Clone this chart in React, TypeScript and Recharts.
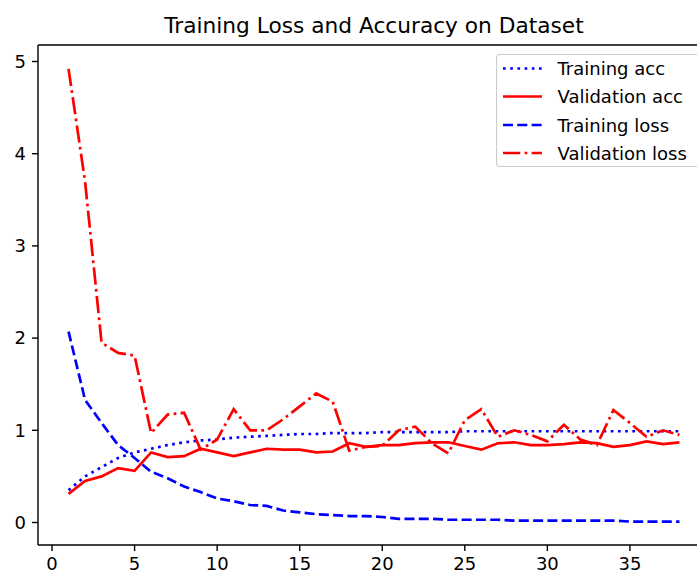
import { LineChart, Line, XAxis, YAxis, Legend, ReferenceLine } from "recharts";

const epochs = [
  1, 2, 3, 4, 5, 6, 7, 8, 9, 10, 11, 12, 13, 14, 15, 16, 17, 18, 19,
  20, 21, 22, 23, 24, 25, 26, 27, 28, 29, 30, 31, 32, 33, 34, 35, 36, 37, 38,
];

const trainAcc = [
  0.35, 0.5, 0.6, 0.7, 0.76, 0.8, 0.84, 0.87, 0.89, 0.9, 0.92, 0.93, 0.94,
  0.95, 0.96, 0.96, 0.97, 0.97, 0.97, 0.98, 0.98, 0.98, 0.98, 0.98, 0.99,
  0.99, 0.99, 0.99, 0.99, 0.99, 0.99, 0.99, 0.99, 0.99, 0.99, 0.99, 0.99, 0.99,
];

const valAcc = [
  0.31, 0.45, 0.5, 0.59, 0.56, 0.76, 0.71, 0.72, 0.8, 0.76, 0.72, 0.76, 0.8,
  0.79, 0.79, 0.76, 0.77, 0.86, 0.82, 0.84, 0.84, 0.86, 0.87, 0.87, 0.83,
  0.79, 0.86, 0.87, 0.84, 0.84, 0.85, 0.87, 0.86, 0.82, 0.84, 0.88, 0.85, 0.87,
];

const trainLoss = [
  2.07, 1.33, 1.08, 0.84, 0.7, 0.55, 0.48, 0.39, 0.33, 0.26, 0.23, 0.19, 0.18,
  0.13, 0.11, 0.09, 0.08, 0.07, 0.07, 0.06, 0.04, 0.04, 0.04, 0.03, 0.03,
  0.03, 0.03, 0.02, 0.02, 0.02, 0.02, 0.02, 0.02, 0.02, 0.01, 0.01, 0.01, 0.01,
];

const valLoss = [
  4.92, 3.7, 1.95, 1.84, 1.81, 0.97, 1.17, 1.19, 0.79, 0.9, 1.23, 1.0, 1.0,
  1.12, 1.26, 1.4, 1.31, 0.78, 0.82, 0.83, 1.0, 1.04, 0.86, 0.75, 1.11, 1.23,
  0.93, 1.0, 0.95, 0.88, 1.06, 0.9, 0.84, 1.22, 1.08, 0.93, 1.0, 0.95,
];

const xTicks = [0, 5, 10, 15, 20, 25, 30, 35];
const yTicks = [0, 1, 2, 3, 4, 5];
const X_DOMAIN = [-0.85, 39.85];
const Y_DOMAIN = [-0.244, 5.179];

const data = epochs.map((e, i) => ({
  epoch: e,
  trainAcc: trainAcc[i],
  valAcc: valAcc[i],
  trainLoss: trainLoss[i],
  valLoss: valLoss[i],
}));

// matplotlib-ish line styles (lw 2.7px, dash lengths scaled by lw)
const series = [
  { key: "trainAcc", name: "Training acc", color: "#0000ff", dash: "2.7 4.5" },
  { key: "valAcc", name: "Validation acc", color: "#ff0000", dash: undefined },
  { key: "trainLoss", name: "Training loss", color: "#0000ff", dash: "10 4.3" },
  { key: "valLoss", name: "Validation loss", color: "#ff0000", dash: "17.3 4.3 2.7 4.3" },
];

const FONT = "'DejaVu Sans', sans-serif";
const tickStyle = { fontSize: 18, fill: "#000", fontFamily: FONT };
const spine = { stroke: "#000", strokeWidth: 1.4 };

const LegendBox = () => {
  const rows = [14.5, 42.5, 71, 99];
  return (
    <svg width={210} height={114} style={{ display: "block" }}>
      <rect x={0.5} y={0.5} width={208} height={112} rx={3.5} fill="#fff" stroke="#cccccc" strokeWidth={1.2} />
      {series.map((s, i) => (
        <g key={s.key}>
          <line
            x1={7}
            x2={46}
            y1={rows[i]}
            y2={rows[i]}
            stroke={s.color}
            strokeWidth={2.7}
            strokeDasharray={s.dash}
          />
          <text x={61.5} y={rows[i] + 6.5} fontSize={18} fontFamily={FONT} fill="#000">
            {s.name}
          </text>
        </g>
      ))}
    </svg>
  );
};

export default function App() {
  return (
    <div
      style={{
        position: "absolute",
        left: 0,
        top: 0,
        width: 697,
        height: 573,
        overflow: "hidden",
        background: "#fff",
      }}
    >
      <div
        style={{
          position: "absolute",
          left: 38,
          width: 672,
          top: 13,
          textAlign: "center",
          fontSize: 21.7,
          lineHeight: "25px",
          fontFamily: FONT,
          color: "#000",
          whiteSpace: "nowrap",
        }}
      >
        Training Loss and Accuracy on Dataset
      </div>
      <LineChart
        width={720}
        height={573}
        data={data}
        margin={{ top: 45, right: 10, bottom: 0, left: 0 }}
        style={{ fontFamily: FONT }}
      >
        <XAxis
          dataKey="epoch"
          type="number"
          domain={X_DOMAIN}
          ticks={xTicks}
          allowDataOverflow
          height={28}
          tick={tickStyle}
          tickSize={6}
          tickMargin={6}
          axisLine={spine}
          tickLine={spine}
        />
        <YAxis
          type="number"
          domain={Y_DOMAIN}
          ticks={yTicks}
          allowDataOverflow
          width={38}
          tick={tickStyle}
          tickSize={6}
          tickMargin={6}
          axisLine={spine}
          tickLine={spine}
        />
        {/* top spine */}
        <ReferenceLine y={Y_DOMAIN[1]} stroke="#000" strokeWidth={1.4} ifOverflow="visible" />
        <Legend
          layout="vertical"
          align="center"
          verticalAlign="middle"
          content={() => <LegendBox />}
          wrapperStyle={{ left: 496, top: 54, width: 210, height: 114 }}
        />
        {series.map((s) => (
          <Line
            key={s.key}
            type="linear"
            dataKey={s.key}
            name={s.name}
            stroke={s.color}
            strokeWidth={2.7}
            strokeDasharray={s.dash}
            dot={false}
            activeDot={false}
            isAnimationActive={false}
          />
        ))}
      </LineChart>
    </div>
  );
}
